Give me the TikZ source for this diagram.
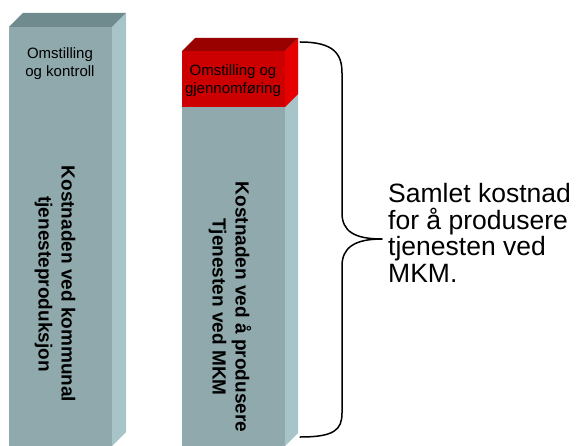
\documentclass[tikz,border=0pt]{standalone}
\usepackage{fontspec}
\setmainfont{Liberation Sans}
\definecolor{frontgray}{HTML}{8FA9AC}
\definecolor{sidegray}{HTML}{A7C5C8}
\definecolor{topgray}{HTML}{6F8B8D}
\definecolor{frontred}{HTML}{CC0000}
\definecolor{sidered}{HTML}{E60000}
\definecolor{topred}{HTML}{990000}

\begin{document}
\begin{tikzpicture}[x=1pt, y=-1pt, line join=round,
  smalllabel/.style={font=\fontsize{15}{18}\selectfont, align=center, inner sep=0pt},
  barlabel/.style={font=\fontsize{19}{23}\selectfont\bfseries, align=center, rotate=-90, inner sep=0pt}]
  \useasboundingbox (0,0) rectangle (580,446);
  % left bar (kommunal produksjon)
  \fill[frontgray] (9,27) rectangle (112,446);
  \fill[sidegray] (112,27) -- (126,13) -- (126,432) -- (112,446) -- cycle;
  \fill[topgray] (9,27) -- (23,13) -- (126,13) -- (112,27) -- cycle;
  \node[smalllabel] (kontroll) at (60,64) {Omstilling\\og kontroll};
  \node[barlabel] (kommunal) at (55,284) {Kostnaden ved kommunal\\tjenesteproduksjon};
  % right bar (MKM), grey body with red top block
  \fill[frontgray] (182,51) rectangle (285,446);
  \fill[sidegray] (285,51) -- (298,38) -- (298,433) -- (285,446) -- cycle;
  \fill[frontred] (182,51) rectangle (285,107);
  \fill[sidered] (285,51) -- (298,38) -- (298,94) -- (285,107) -- cycle;
  \fill[topred] (182,51) -- (195,38) -- (298,38) -- (285,51) -- cycle;
  \node[smalllabel] (gjennom) at (233,81) {Omstilling og\\gjennomføring};
  \node[barlabel] (mkm) at (230,307) {Kostnaden ved å produsere\\Tjenesten ved MKM};
  % curly brace round the whole right bar
  \coordinate (tip) at (382,239);
  \draw[line width=1.5pt, line cap=round]
    (300,42) .. controls (334,42) and (342,54) .. (342,73) -- (342,213)
    .. controls (342,231) and (354,239) .. (tip)
    .. controls (354,239) and (342,248) .. (342,266) -- (342,413)
    .. controls (342,430) and (334,437) .. (300,437);
  \node[anchor=west, align=left, inner sep=0pt, font=\fontsize{26.5}{26.7}\selectfont]
    (samlet) at (388,233) {Samlet kostnad\\for å produsere\\tjenesten ved\\MKM.};
\end{tikzpicture}
\end{document}
